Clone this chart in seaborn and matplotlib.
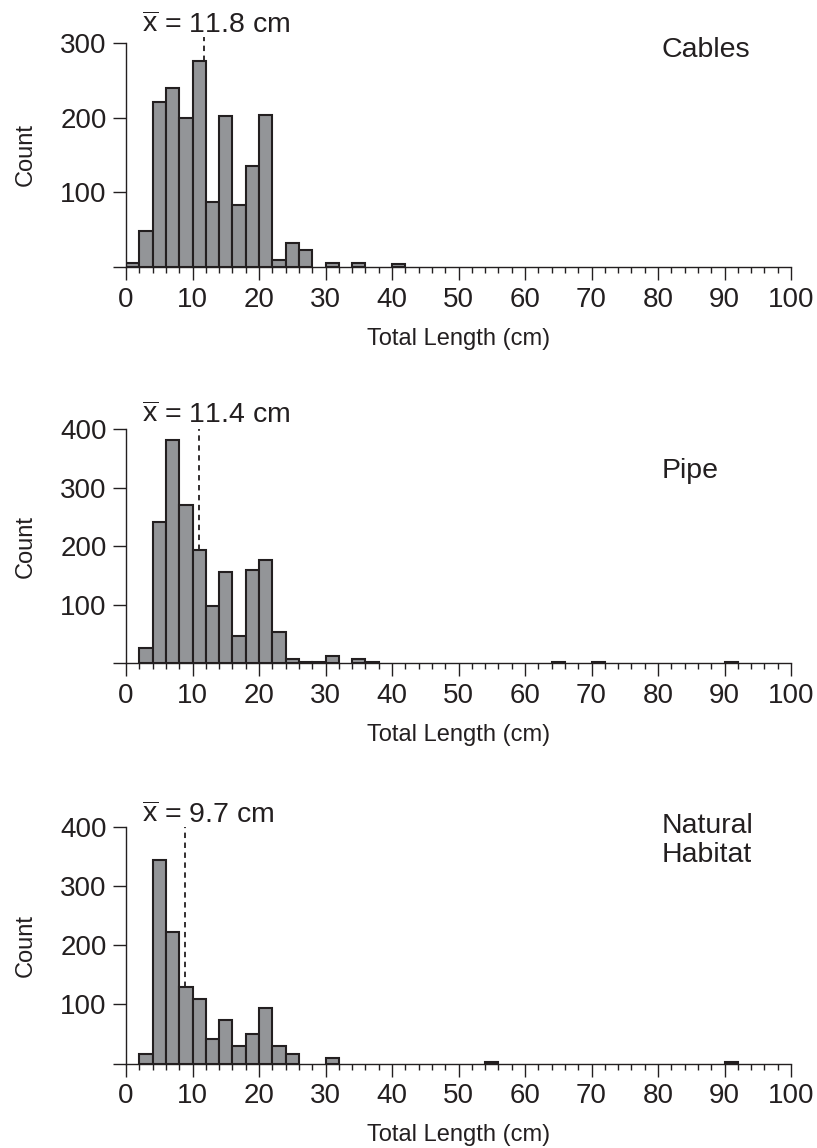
import numpy as np
import pandas as pd
import matplotlib
matplotlib.use("Agg")
import matplotlib.pyplot as plt
import seaborn as sns

# ---------------- data (bin left edges in cm, 2-cm bins) ----------------
bin_width = 2
x_max = 100

cables_bins = [0, 2, 4, 6, 8, 10, 12, 14, 16, 18, 20, 22, 24, 26, 30, 34, 40]
cables_counts = [6, 49, 221, 240, 199, 275, 87, 202, 83, 135, 204, 10, 32, 23, 6, 6, 4]

pipe_bins = [2, 4, 6, 8, 10, 12, 14, 16, 18, 20, 22, 24, 26, 28, 30, 34, 36, 64, 70, 90]
pipe_counts = [26, 242, 382, 271, 193, 98, 156, 46, 160, 177, 53, 7, 3, 3, 12, 7, 3, 3, 3, 3]

natural_bins = [2, 4, 6, 8, 10, 12, 14, 16, 18, 20, 22, 24, 30, 54, 90]
natural_counts = [17, 344, 223, 129, 110, 42, 74, 30, 50, 94, 30, 17, 10, 3, 3]

panel_names = ["Cables", "Pipe", "Natural\nHabitat"]
mean_values = [11.8, 11.4, 9.7]
mean_line_x = [11.8, 11.0, 8.9]
y_tops = [300, 400, 400]
y_ticks = [[0, 100, 200, 300], [0, 100, 200, 300, 400], [0, 100, 200, 300, 400]]
x_ticks = [0, 10, 20, 30, 40, 50, 60, 70, 80, 90, 100]
x_label = "Total Length (cm)"
y_label = "Count"

# ---------------- style ----------------
sns.set_theme(style="ticks")
plt.rcParams["font.family"] = ["Liberation Sans", "DejaVu Sans"]
plt.rcParams["mathtext.fontset"] = "custom"
plt.rcParams["mathtext.rm"] = "Liberation Sans"
plt.rcParams["mathtext.it"] = "Liberation Sans"
ink = "#231f20"
bar_fill = "#939598"

fig = plt.figure(figsize=(8.17, 11.48), dpi=100)

W, H = 817.0, 1148.0
x0_px, x100_px = 126.0, 791.0
panels_px = [(267.3, 42.7), (663.3, 429.3), (1063.7, 826.7)]  # (y0 px, ytop px)
text_base = [313, 410, 406]
name_base = [281, 317, 341]

datasets = [(cables_bins, cables_counts), (pipe_bins, pipe_counts), (natural_bins, natural_counts)]

for i, ((bins, counts), (y0p, ytp)) in enumerate(zip(datasets, panels_px)):
    ax = fig.add_axes([x0_px / W, 1 - y0p / H, (x100_px - x0_px) / W, (y0p - ytp) / H])
    df = pd.DataFrame({"center": np.array(bins, dtype=float) + bin_width / 2,
                       "count": np.array(counts, dtype=float)})
    sns.histplot(data=df, x="center", weights="count", binwidth=bin_width,
                 binrange=(0, x_max), ax=ax,
                 color=bar_fill, edgecolor=ink, linewidth=1.5, alpha=1)
    for p in list(ax.patches):
        if p.get_height() == 0:
            p.remove()
    ax.set_xlim(0, x_max)
    ax.set_ylim(0, y_tops[i])
    for s in ["top", "right"]:
        ax.spines[s].set_visible(False)
    for s in ["left", "bottom"]:
        ax.spines[s].set_linewidth(1.0)
        ax.spines[s].set_color(ink)
    ax.set_xticks(x_ticks)
    ax.set_xticks([v for v in range(0, x_max + 1, 2) if v % 10], minor=True)
    ax.set_yticks(y_ticks[i])
    ax.set_yticklabels([("" if v == 0 else str(v)) for v in y_ticks[i]])
    ax.tick_params(axis="both", which="major", length=9.4, width=1.0, color=ink,
                   labelsize=20, labelcolor=ink, pad=4.5)
    ax.tick_params(axis="x", which="minor", length=4.3, width=1.0, color=ink)
    ax.set_xlabel(x_label, fontsize=17, color=ink, labelpad=11)
    ax.set_ylabel(y_label, fontsize=17, color=ink, labelpad=17)
    # mean line
    mx = mean_line_x[i]
    bar_top = 0
    for b, c in zip(bins, counts):
        if b <= mx < b + bin_width:
            bar_top = c
    line_top = 308 if i == 0 else y_tops[i]
    ax.plot([mx, mx], [bar_top, line_top], color=ink, lw=1.3,
            linestyle=(0, (3, 2.5)), clip_on=False, zorder=5)
    ax.text(2.4, text_base[i], r"$\overline{\mathrm{x}}$" + f" = {mean_values[i]} cm",
            fontsize=20.5, color=ink, ha="left", va="baseline", clip_on=False)
    ax.text(80.5, name_base[i], panel_names[i], fontsize=20.5, color=ink,
            ha="left", va="baseline", linespacing=1.15)

fig.savefig("out.png", dpi=100)
